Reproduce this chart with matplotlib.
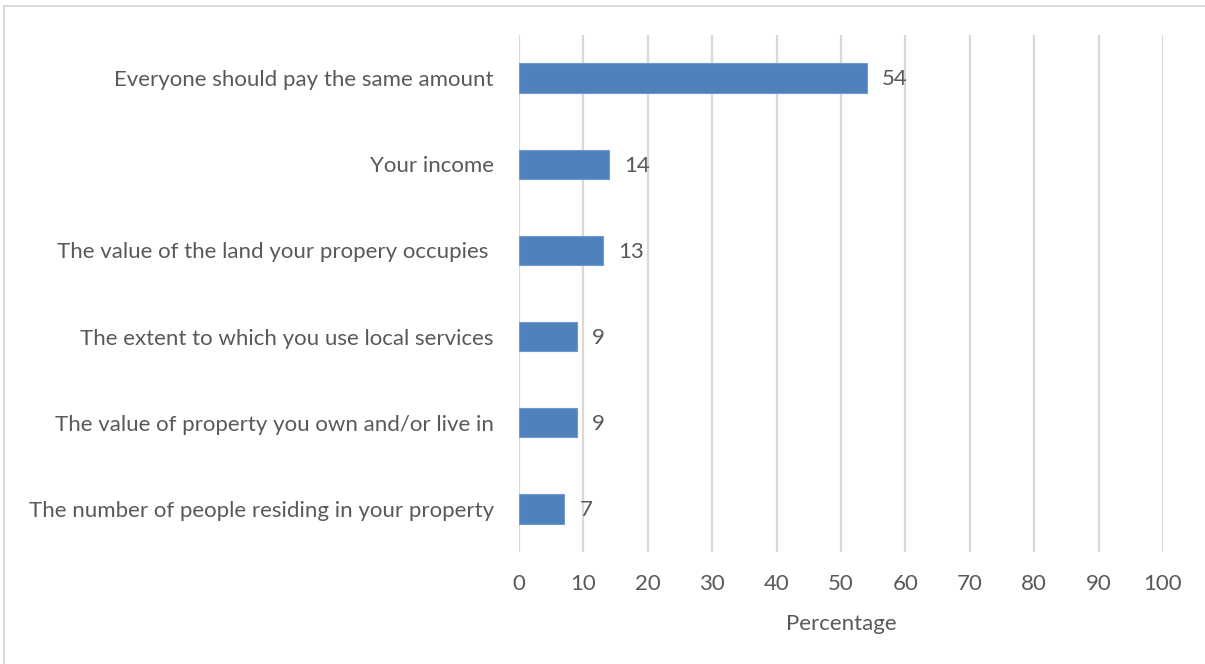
import matplotlib
matplotlib.use('Agg')
import matplotlib.pyplot as plt
from matplotlib.lines import Line2D

# survey answers, listed top to bottom
categories = [
    'Everyone should pay the same amount',
    'Your income',
    'The value of the land your propery occupies ',
    'The extent to which you use local services',
    'The value of property you own and/or live in',
    'The number of people residing in your property',
]
percentages = [54, 14, 13, 9, 9, 7]
xticks = list(range(0, 101, 10))

text_grey = '#595959'
bar_blue = '#4F81BD'
fs = 16

plt.rcParams['font.family'] = ['Lato', 'DejaVu Sans']

fig = plt.figure(figsize=(12.05, 6.64), dpi=100)
ax = fig.add_axes([519 / 1205, 1 - 552 / 664, (1163 - 519) / 1205, (552 - 35) / 664])

ypos = list(range(len(categories)))
ax.barh(ypos, percentages, height=0.34, color=bar_blue,
        edgecolor='#6F9AD0', linewidth=0.8, zorder=3)

for y, v in zip(ypos, percentages):
    ax.annotate(str(v), (v, y), xytext=(11, -1), textcoords='offset points',
                va='center', ha='left', fontsize=fs, color=text_grey)

ax.set_xlim(0, 100)
ax.set_ylim(len(categories) - 0.5, -0.5)
ax.set_xticks(xticks)
ax.set_xticklabels([str(t) for t in xticks], fontsize=fs, color=text_grey)
ax.set_yticks(ypos)
ax.set_yticklabels(categories, fontsize=fs, color=text_grey)
ax.tick_params(axis='both', length=0)
ax.tick_params(axis='x', pad=16)
ax.tick_params(axis='y', pad=18)

ax.grid(axis='x', color='#D9D9D9', linewidth=1.6, zorder=0)
ax.set_axisbelow(True)
for s in ax.spines.values():
    s.set_visible(False)

ax.set_xlabel('Percentage', fontsize=fs, color=text_grey, labelpad=14)

# chart frame, visible along the top and left
fig.add_artist(Line2D([4 / 1205, 4 / 1205], [0, 1 - 5.5 / 664],
                      transform=fig.transFigure, color='#D9D9D9', linewidth=1.5))
fig.add_artist(Line2D([4 / 1205, 1], [1 - 5.5 / 664, 1 - 5.5 / 664],
                      transform=fig.transFigure, color='#D9D9D9', linewidth=1.5))

fig.savefig('out.png', dpi=100)
